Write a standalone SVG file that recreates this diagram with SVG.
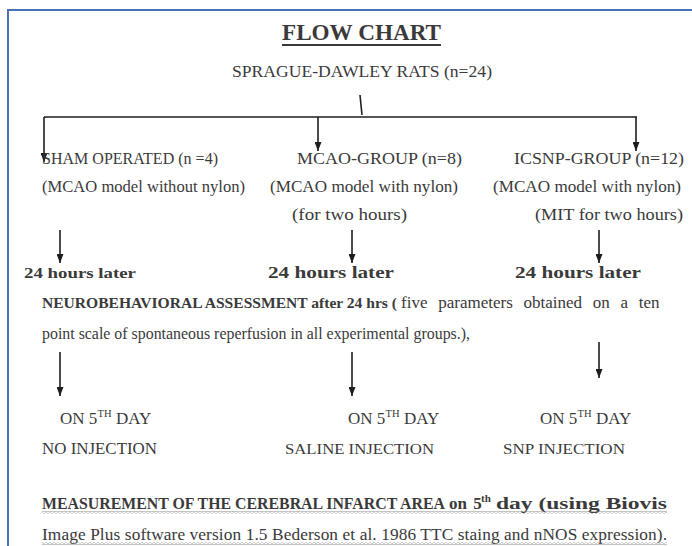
<svg xmlns="http://www.w3.org/2000/svg" width="692" height="546" viewBox="0 0 692 546" font-family="'Liberation Serif', 'Times New Roman', serif" font-size="17">
<style>
text{font-family:'Liberation Serif','Times New Roman',serif;fill:#3a3a3a}
.b{font-weight:bold}
.ln{stroke:#1e1e1e;stroke-width:1.6;fill:none}
.ar{stroke:#1e1e1e;stroke-width:1.6;fill:none;marker-end:url(#ah)}
</style>
<defs>
<marker id="ah" markerUnits="userSpaceOnUse" markerWidth="9" markerHeight="7" refX="9" refY="3.5" orient="auto" viewBox="0 0 9 7">
<path d="M0,0 L9,3.5 L0,7 z" fill="#1e1e1e"/>
</marker>
<pattern id="wavy" width="4" height="3" patternUnits="userSpaceOnUse">
<path d="M0,0.6 L2,2.4 L4,0.6" stroke="#7a7a7a" stroke-width="0.8" fill="none"/>
</pattern>
</defs>
<rect width="692" height="546" fill="#fff"/>
<path d="M8,546 V10 H692" stroke="#4a70b8" stroke-width="2" fill="none"/>

<g id="title">
<text x="282" y="40" class="b" font-size="23" textLength="159" lengthAdjust="spacingAndGlyphs">FLOW CHART</text>
<rect x="282" y="44" width="159" height="2" fill="#3a3a3a"/>
</g>
<g id="rats"><text x="232" y="77" textLength="260" lengthAdjust="spacingAndGlyphs">SPRAGUE-DAWLEY RATS (n=24)</text></g>

<g id="connectors">
<path class="ln" d="M360,95 L362,115"/>
<path class="ln" d="M44,117 H637"/>
<path class="ar" d="M44,117 V162"/>
<path class="ar" d="M318,117 V151"/>
<path class="ar" d="M636,117 V151"/>
<path class="ar" d="M60,230 V263"/>
<path class="ar" d="M352,230 V263"/>
<path class="ar" d="M599,230 V263"/>
<path class="ar" d="M60,352 V396"/>
<path class="ar" d="M352,352 V396"/>
<path class="ar" d="M599,342 V378"/>
</g>

<g id="sham">
<text x="42" y="164" font-size="16" textLength="176" lengthAdjust="spacingAndGlyphs">SHAM OPERATED (n =4)</text>
<text x="42" y="192" font-size="16.5" textLength="203" lengthAdjust="spacingAndGlyphs">(MCAO model without nylon)</text>
</g>
<g id="mcao">
<text x="297" y="164" font-size="17.5" textLength="165" lengthAdjust="spacingAndGlyphs">MCAO-GROUP (n=8)</text>
<text x="270" y="192" textLength="188" lengthAdjust="spacingAndGlyphs">(MCAO model with nylon)</text>
<text x="292" y="220" textLength="115" lengthAdjust="spacingAndGlyphs">(for two hours)</text>
</g>
<g id="icsnp">
<text x="514" y="164" font-size="17.5" textLength="170" lengthAdjust="spacingAndGlyphs">ICSNP-GROUP (n=12)</text>
<text x="493" y="192" textLength="188" lengthAdjust="spacingAndGlyphs">(MCAO model with nylon)</text>
<text x="535" y="220" textLength="148" lengthAdjust="spacingAndGlyphs">(MIT for two hours)</text>
</g>

<g id="later1"><text x="24" y="278" class="b" font-size="15.5" textLength="112" lengthAdjust="spacingAndGlyphs">24 hours later</text></g>
<g id="later2"><text x="268" y="278" class="b" font-size="16.5" textLength="126" lengthAdjust="spacingAndGlyphs">24 hours later</text></g>
<g id="later3"><text x="515" y="278" class="b" font-size="16.5" textLength="126" lengthAdjust="spacingAndGlyphs">24 hours later</text></g>

<g id="neuro">
<text x="42" y="308" class="b" font-size="15.3" textLength="355" lengthAdjust="spacingAndGlyphs">NEUROBEHAVIORAL ASSESSMENT after 24 hrs (</text>
<text x="401" y="308" word-spacing="6.5">five parameters obtained on a ten</text>
<text x="42" y="339" font-size="15.8" textLength="428" lengthAdjust="spacingAndGlyphs">point scale of spontaneous reperfusion in all experimental groups.),</text>
</g>

<g id="noinj">
<text x="60" y="424">ON 5</text><text x="97.5" y="417" font-size="10.5">TH</text><text x="116" y="424">DAY</text>
<text x="42" y="454" font-size="16.8" textLength="115" lengthAdjust="spacingAndGlyphs">NO INJECTION</text>
</g>
<g id="saline">
<text x="348" y="424">ON 5</text><text x="385.5" y="417" font-size="10.5">TH</text><text x="404" y="424">DAY</text>
<text x="285" y="454" font-size="15.4" textLength="149" lengthAdjust="spacingAndGlyphs">SALINE INJECTION</text>
</g>
<g id="snp">
<text x="540" y="424">ON 5</text><text x="577.5" y="417" font-size="10.5">TH</text><text x="596" y="424">DAY</text>
<text x="503" y="454" font-size="15.4" textLength="122" lengthAdjust="spacingAndGlyphs">SNP INJECTION</text>
</g>

<g id="measure">
<text x="42" y="509" class="b" font-size="16" textLength="403" lengthAdjust="spacingAndGlyphs">MEASUREMENT OF THE CEREBRAL INFARCT AREA</text>
<text x="449" y="509" class="b" word-spacing="2">on 5</text>
<text x="481" y="502" class="b" font-size="11">th</text>
<text x="496" y="509" class="b" textLength="171" lengthAdjust="spacingAndGlyphs">day (using Biovis</text>
<rect x="42" y="511" width="625" height="3" fill="url(#wavy)"/>
<text x="42" y="540" font-size="17.3" textLength="625" lengthAdjust="spacing">Image Plus software version 1.5 Bederson et al. 1986 TTC staing and nNOS expression).</text>
<rect x="42" y="542" width="625" height="3" fill="url(#wavy)"/>
</g>
</svg>
